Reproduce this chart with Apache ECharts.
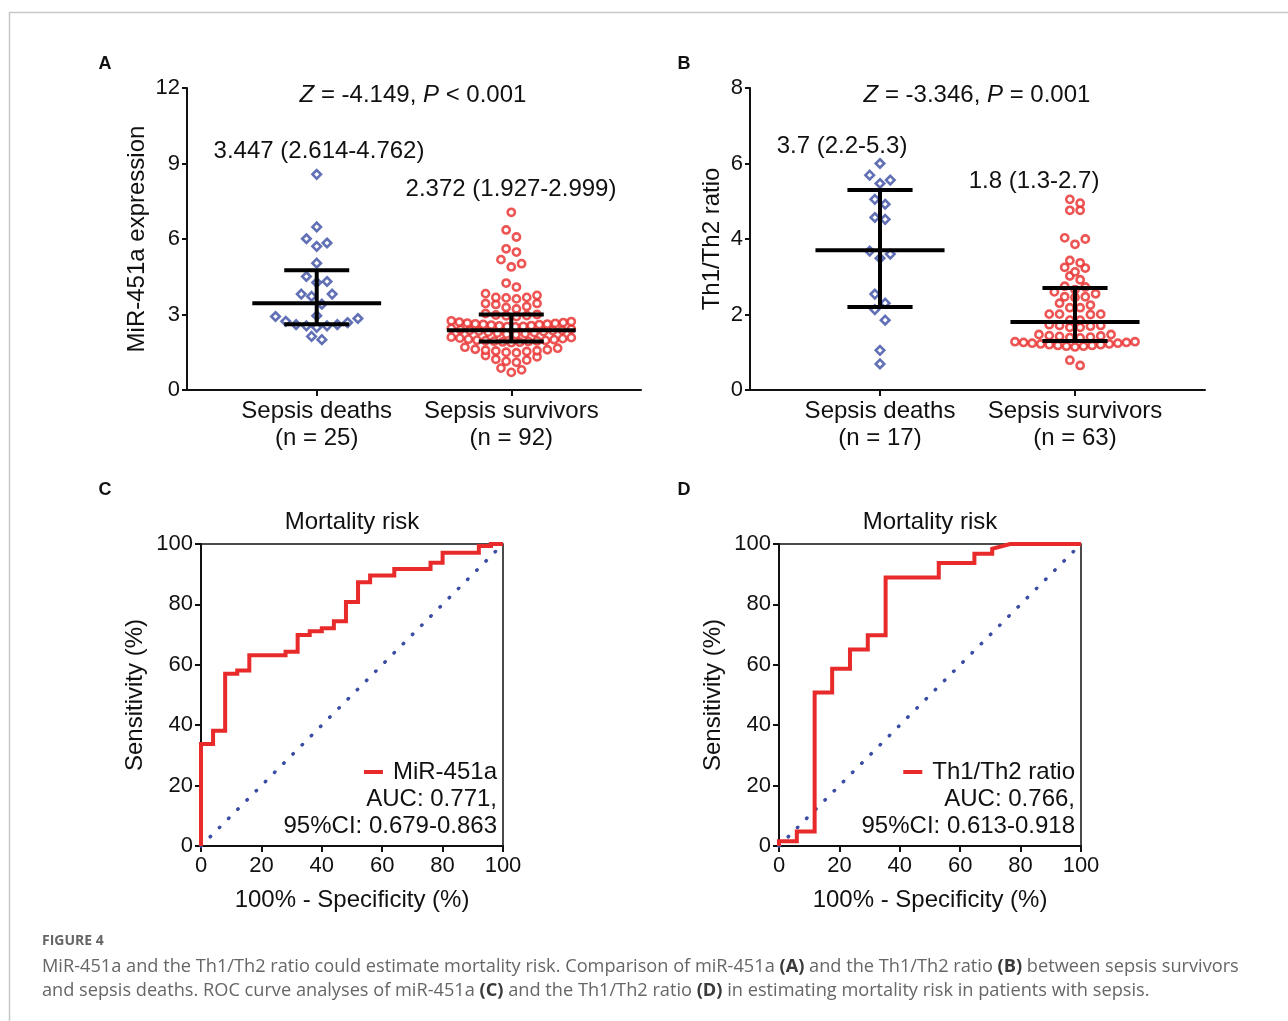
<!DOCTYPE html>
<html>
<head>
<meta charset="utf-8">
<script src="https://cdn.jsdelivr.net/npm/echarts@6/dist/echarts.min.js"></script>
<style>
html, body { margin: 0; padding: 0; background: #fff; }
#chart { width: 1288px; height: 1021px; }
</style>
</head>
<body>
<div id="chart"></div>
<script>
// ---- data ----
var groupNames = ['Sepsis deaths', 'Sepsis survivors'];
var nMiR = [25, 92];
var nTh = [17, 63];

var deathsMiR = [8.57, 6.48, 6.01, 5.71, 5.84, 5.04, 4.51, 4.27, 4.31, 3.81, 3.72, 3.81, 3.41,
    2.95, 2.84, 2.68, 2.60, 2.55, 2.49, 2.55, 2.60, 2.73, 2.92, 2.00, 2.13];
var survivorsMiR = [0.70, 0.80, 0.87,
    1.10, 1.14, 1.19, 1.22, 1.32, 1.37,
    1.48, 1.50, 1.53, 1.55, 1.56, 1.58, 1.60, 1.62, 1.66, 1.70,
    1.88, 1.90, 1.91, 1.93, 1.94, 1.95, 1.96, 1.97, 1.98, 2.00, 2.02, 2.04, 2.06, 2.08, 2.10,
    2.20, 2.22, 2.24, 2.26, 2.28, 2.30, 2.32, 2.34, 2.36, 2.37, 2.38, 2.40, 2.42, 2.45,
    2.51, 2.52, 2.53, 2.55, 2.56, 2.58, 2.60, 2.61, 2.62, 2.63, 2.65, 2.66, 2.68, 2.70, 2.72, 2.75,
    2.92, 2.95, 2.96, 2.98, 3.00, 3.04,
    3.22, 3.28, 3.32, 3.40, 3.44, 3.44,
    3.62, 3.66, 3.68, 3.68, 3.76, 3.83,
    4.09, 4.25, 4.89, 5.02, 5.18, 5.48, 5.61, 6.08, 6.36, 7.06];
var deathsTh = [6.00, 5.56, 5.47, 5.69, 4.92, 5.05, 4.57, 4.52, 3.68, 3.49, 3.60,
    2.54, 2.30, 2.13, 1.85, 1.05, 0.69];
var survivorsTh = [0.65, 0.79,
    1.14, 1.16, 1.16, 1.18, 1.18, 1.20, 1.20, 1.22, 1.22, 1.24, 1.24, 1.26, 1.26, 1.28, 1.28,
    1.38, 1.39, 1.40, 1.42, 1.43, 1.44, 1.47, 1.47,
    1.66, 1.66, 1.69, 1.71, 1.71, 1.73,
    1.85, 1.85, 2.00, 2.01, 2.01, 2.01,
    2.18, 2.18, 2.25, 2.30,
    2.45, 2.47, 2.47, 2.55, 2.60,
    2.66, 2.73, 2.75,
    2.92, 3.02,
    3.13, 3.23, 3.25,
    3.37, 3.43,
    3.86, 4.00, 4.03,
    4.76, 4.76,
    4.95, 5.05];

var medMiR = [3.447, 2.372], q1MiR = [2.614, 1.927], q3MiR = [4.762, 2.999];
var medTh = [3.7, 1.8], q1Th = [2.2, 1.3], q3Th = [5.3, 2.7];

var testMiR = ['-4.149', '< 0.001'];
var testTh = ['-3.346', '= 0.001'];

// ROC curve vertices (100% - specificity, sensitivity)
var fprMiR = [0, 0, 4, 4, 8, 8, 12, 12, 16, 16, 28, 28, 32, 32, 36, 36, 40, 40, 44, 44, 48, 48,
    52, 52, 56, 56, 64, 64, 76, 76, 80, 80, 92, 92, 96, 96, 100];
var tprMiR = [0, 33.8, 33.8, 38.2, 38.2, 57.0, 57.0, 58.1, 58.1, 63.2, 63.2, 64.3, 64.3, 69.9, 69.9,
    71.1, 71.1, 72.1, 72.1, 74.4, 74.4, 80.8, 80.8, 87.3, 87.3, 89.6, 89.6, 91.7, 91.7, 93.8, 93.8,
    97.1, 97.1, 99.3, 99.3, 100, 100];
var fprTh = [0, 0, 5.9, 5.9, 11.8, 11.8, 17.6, 17.6, 23.5, 23.5, 29.4, 29.4, 35.3, 35.3, 52.9, 52.9,
    64.7, 64.7, 70.6, 70.6, 76.5, 100];
var tprTh = [0, 1.6, 1.6, 4.8, 4.8, 50.8, 50.8, 58.7, 58.7, 65.1, 65.1, 69.8, 69.8, 88.9, 88.9,
    93.7, 93.7, 96.8, 96.8, 98.4, 100, 100];
var aucMiR = ['0.771', '0.679-0.863'];
var aucTh = ['0.766', '0.613-0.918'];

// ---- styling ----
var FONT = "'Liberation Sans', Arial, Helvetica, sans-serif";
var CAP_FONT = "'Open Sans', sans-serif";
var INK = '#111';
var BLUE = '#3a4ca2';
var RED = '#e82a2a';
var FS = 24;      // text size of names, titles, notes
var TICK_FS = 22; // tick label size

var gridA = {left: 187, top: 88, width: 454, height: 302};
var gridB = {left: 750, top: 88, width: 455, height: 302};
var gridC = {left: 201, top: 544, width: 302, height: 302};
var gridD = {left: 779, top: 544, width: 302, height: 302};
var X_MIN = 1 / 3, X_MAX = 8 / 3;

// GraphPad-like scatter: bin sorted values into rows, spread each row centre-out
function swarm(values, centre, binSize, pxPerUnit) {
    var sorted = values.slice().sort(function (a, b) { return a - b; });
    var bins = [], cur = null;
    sorted.forEach(function (v) {
        if (!cur || v - cur[0] >= binSize - 1e-9) { cur = [v]; bins.push(cur); }
        else cur.push(v);
    });
    var pts = [];
    bins.forEach(function (bin) {
        var n = bin.length;
        var stepPx = n > 1 ? Math.min(10.3, 120 / (n - 1)) : 0;
        var slots = [];
        for (var i = 0; i < n; i++) slots.push(i - (n - 1) / 2);
        slots.sort(function (a, b) { return Math.abs(a) - Math.abs(b) || b - a; });
        bin.forEach(function (v, i) { pts.push([centre + slots[i] * stepPx / pxPerUnit, v]); });
    });
    return pts;
}

function groupAxis(gridIndex, ns) {
    return {
        type: 'value', gridIndex: gridIndex, min: X_MIN, max: X_MAX,
        splitLine: {show: false},
        axisLine: {show: true, onZero: false, lineStyle: {color: INK, width: 2}},
        axisTick: {show: true, customValues: [1, 2], length: 6, lineStyle: {color: INK, width: 2}},
        axisLabel: {
            customValues: [1, 2], margin: 8, fontSize: FS, lineHeight: 27, color: INK, fontFamily: FONT,
            formatter: function (v) {
                var i = Math.round(v) - 1;
                return groupNames[i] + '\n(n = ' + ns[i] + ')';
            }
        }
    };
}

function valueAxis(gridIndex, max, step, name, gap, tickLen, labelMargin) {
    return {
        type: 'value', gridIndex: gridIndex, min: 0, max: max, interval: step,
        name: name, nameLocation: 'middle', nameGap: gap,
        nameTextStyle: {fontSize: FS, color: INK, fontFamily: FONT},
        splitLine: {show: false},
        axisLine: {show: true, onZero: false, lineStyle: {color: INK, width: 2}},
        axisTick: {show: true, length: tickLen, lineStyle: {color: INK, width: 2}},
        axisLabel: {fontSize: TICK_FS, color: INK, fontFamily: FONT, margin: labelMargin}
    };
}

function iqrRender(params, api) {
    var x = api.value(0), lo = api.value(1), med = api.value(2), hi = api.value(3);
    function seg(x1, y1, x2, y2) {
        var a = api.coord([x1, y1]), b = api.coord([x2, y2]);
        return {type: 'line', shape: {x1: a[0], y1: a[1], x2: b[0], y2: b[1]},
            style: {stroke: '#000', lineWidth: 4}};
    }
    return {type: 'group', children: [
        seg(x, lo, x, hi),
        seg(x - 0.331, med, x + 0.331, med),
        seg(x - 0.167, lo, x + 0.167, lo),
        seg(x - 0.167, hi, x + 0.167, hi)
    ]};
}

function iqrData(q1, med, q3) {
    return [0, 1].map(function (i) { return [i + 1, q1[i], med[i], q3[i]]; });
}

function zip(xs, ys) {
    return xs.map(function (x, i) { return [x, ys[i]]; });
}

function txt(x, y, text, o) {
    o = o || {};
    return {
        type: 'text', x: x, y: y, silent: true,
        style: {
            text: text, fill: o.fill || INK, fontFamily: o.family || FONT, fontSize: o.size || FS,
            fontWeight: o.weight || 'normal', align: o.align || 'center', verticalAlign: 'middle',
            rich: o.rich
        }
    };
}

function rocLegend(name, rightEdge) {
    return {data: [name], right: 1288 - rightEdge, top: 760, padding: 0, icon: 'rect', itemWidth: 19, itemHeight: 4,
        selectedMode: false, textStyle: {fontSize: FS, color: INK, fontFamily: FONT, padding: [0, 0, 0, 5]}};
}

var pxA = gridA.width / (X_MAX - X_MIN);
var pxB = gridB.width / (X_MAX - X_MIN);
var italic = {i: {fontStyle: 'italic', fontSize: FS, fontFamily: FONT, fill: INK}};
var capRich = {b: {fontWeight: 'bold', fill: '#3a3a3a', fontSize: 18.2, fontFamily: CAP_FONT}};
var deathStyle = {symbol: 'diamond', symbolSize: 8.5, itemStyle: {color: '#fff', borderColor: BLUE, borderWidth: 2.6}};
var survStyle = {symbol: 'circle', symbolSize: 7.2, itemStyle: {color: '#fff', borderColor: RED, borderWidth: 2.6}};

var mychart = echarts.init(document.getElementById('chart'));
var option = {
    animation: false,
    backgroundColor: '#fff',
    grid: [
        Object.assign({outerBoundsMode: 'none'}, gridA),
        Object.assign({outerBoundsMode: 'none'}, gridB),
        Object.assign({outerBoundsMode: 'none', show: true, borderColor: INK, borderWidth: 1.5}, gridC),
        Object.assign({outerBoundsMode: 'none', show: true, borderColor: INK, borderWidth: 1.5}, gridD)
    ],
    xAxis: [
        groupAxis(0, nMiR),
        groupAxis(1, nTh),
        valueAxis(2, 100, 20, '100% - Specificity (%)', 42, 6, 9),
        valueAxis(3, 100, 20, '100% - Specificity (%)', 42, 6, 9)
    ],
    yAxis: [
        valueAxis(0, 12, 3, 'MiR-451a expression', 38, 5, 7),
        valueAxis(1, 8, 2, 'Th1/Th2 ratio', 26, 5, 7),
        valueAxis(2, 100, 20, 'Sensitivity (%)', 54, 6, 8),
        valueAxis(3, 100, 20, 'Sensitivity (%)', 54, 6, 8)
    ],
    legend: [rocLegend('MiR-451a', 497), rocLegend('Th1/Th2 ratio', 1075)],
    series: [
        Object.assign({type: 'scatter', xAxisIndex: 0, yAxisIndex: 0, data: swarm(deathsMiR, 1, 0.45, pxA)}, deathStyle),
        Object.assign({type: 'scatter', xAxisIndex: 0, yAxisIndex: 0, data: swarm(survivorsMiR, 2, 0.3, pxA)}, survStyle),
        {type: 'custom', xAxisIndex: 0, yAxisIndex: 0, renderItem: iqrRender, z: 5,
            encode: {x: 0, y: [1, 2, 3]}, data: iqrData(q1MiR, medMiR, q3MiR)},

        Object.assign({type: 'scatter', xAxisIndex: 1, yAxisIndex: 1, data: swarm(deathsTh, 1, 0.3, pxB)}, deathStyle),
        Object.assign({type: 'scatter', xAxisIndex: 1, yAxisIndex: 1, data: swarm(survivorsTh, 2, 0.18, pxB)}, survStyle),
        {type: 'custom', xAxisIndex: 1, yAxisIndex: 1, renderItem: iqrRender, z: 5,
            encode: {x: 0, y: [1, 2, 3]}, data: iqrData(q1Th, medTh, q3Th)},

        {type: 'line', xAxisIndex: 2, yAxisIndex: 2, data: [[0, 0], [100, 100]], symbol: 'none', clip: false,
            lineStyle: {color: BLUE, width: 3.5, type: [0.5, 12.5], cap: 'round'}},
        {type: 'line', name: 'MiR-451a', xAxisIndex: 2, yAxisIndex: 2, data: zip(fprMiR, tprMiR),
            symbol: 'none', clip: false, itemStyle: {color: RED}, lineStyle: {color: RED, width: 4, join: 'miter'}},

        {type: 'line', xAxisIndex: 3, yAxisIndex: 3, data: [[0, 0], [100, 100]], symbol: 'none', clip: false,
            lineStyle: {color: BLUE, width: 3.5, type: [0.5, 12.5], cap: 'round'}},
        {type: 'line', name: 'Th1/Th2 ratio', xAxisIndex: 3, yAxisIndex: 3, data: zip(fprTh, tprTh),
            symbol: 'none', clip: false, itemStyle: {color: RED}, lineStyle: {color: RED, width: 4, join: 'miter'}}
    ],
    graphic: [
        {type: 'line', silent: true, shape: {x1: 9, y1: 12.5, x2: 1288, y2: 12.5}, style: {stroke: '#c8c8c8', lineWidth: 1.5}},
        {type: 'line', silent: true, shape: {x1: 9.5, y1: 12, x2: 9.5, y2: 1021}, style: {stroke: '#c8c8c8', lineWidth: 1.5}},

        txt(105, 64, 'A', {size: 18, weight: 'bold'}),
        txt(684, 64, 'B', {size: 18, weight: 'bold'}),
        txt(105, 490, 'C', {size: 18, weight: 'bold'}),
        txt(684, 490, 'D', {size: 18, weight: 'bold'}),

        txt(413, 95, '{i|Z} = ' + testMiR[0] + ', {i|P} ' + testMiR[1], {rich: italic}),
        txt(977, 95, '{i|Z} = ' + testTh[0] + ', {i|P} ' + testTh[1], {rich: italic}),
        txt(319, 151, medMiR[0] + ' (' + q1MiR[0] + '-' + q3MiR[0] + ')'),
        txt(511, 189, medMiR[1] + ' (' + q1MiR[1] + '-' + q3MiR[1] + ')'),
        txt(842, 146, medTh[0] + ' (' + q1Th[0] + '-' + q3Th[0] + ')'),
        txt(1034, 181, medTh[1] + ' (' + q1Th[1] + '-' + q3Th[1] + ')'),

        txt(352, 522, 'Mortality risk'),
        txt(930, 522, 'Mortality risk'),
        txt(497, 799, 'AUC: ' + aucMiR[0] + ',', {align: 'right'}),
        txt(497, 826, '95%CI: ' + aucMiR[1], {align: 'right'}),
        txt(1075, 799, 'AUC: ' + aucTh[0] + ',', {align: 'right'}),
        txt(1075, 826, '95%CI: ' + aucTh[1], {align: 'right'}),

        txt(42, 941, 'FIGURE 4', {size: 14, weight: 'bold', fill: '#666', align: 'left', family: CAP_FONT}),
        txt(42, 967, 'MiR-451a and the Th1/Th2 ratio could estimate mortality risk. Comparison of miR-451a {b|(A)} and the Th1/Th2 ratio {b|(B)} between sepsis survivors',
            {size: 18.2, fill: '#666', align: 'left', family: CAP_FONT, rich: capRich}),
        txt(42, 991, 'and sepsis deaths. ROC curve analyses of miR-451a {b|(C)} and the Th1/Th2 ratio {b|(D)} in estimating mortality risk in patients with sepsis.',
            {size: 18.2, fill: '#666', align: 'left', family: CAP_FONT, rich: capRich})
    ]
};
mychart.setOption(option);
</script>
</body>
</html>
